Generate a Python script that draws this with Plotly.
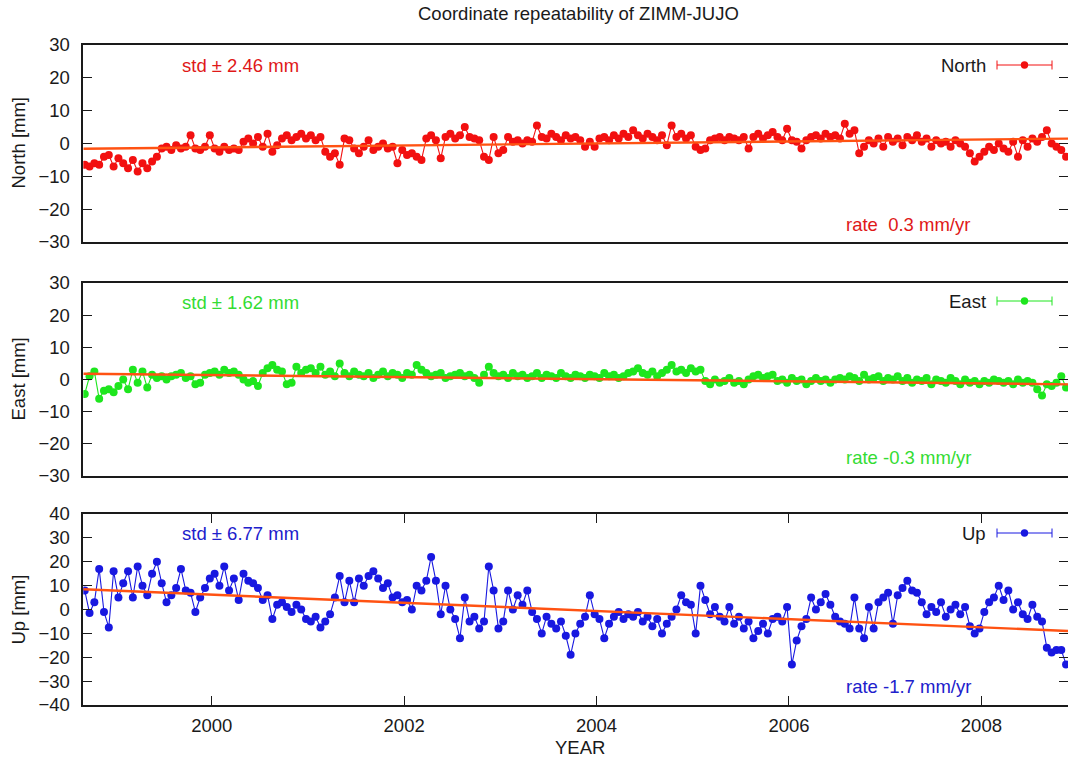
import numpy as np
import plotly.graph_objects as go

# ---------------- data ----------------
epoch_start = 1998.68          # first epoch (decimal year)
epoch_step = 0.05              # sampling interval (years)
x_range = [1998.665, 2008.90]
year_ticks = [2000, 2002, 2004, 2006, 2008]

north = [
    -6.5, -7, -6, -6.5, -4, -3.5, -7,
    -4.5, -6, -7.5, -5, -8.5, -6, -7.5, -5.5, -4, -1.5, -1, -2, -0.5, -1.5, -1, 2.5, -1.5, -2, -1, 2.5,
    -1.5, -2.5, -1, -2, -1.5, -2, 0.5, 1.5, 0, 2, -1, 3, -2.5, -0.5, 1.5, 2.5, 1, 2, 3, 1.5,
    2.5, 1, 2, -2.5, -4, -3, -6.5, 1.5, 1, -1.5, -3, -1, 1, -2, -1, 0, -1.5, -1, -6, -2,
    -3.5, -3, -4, -5, 1.5, 2.5, 1, -4.5, 2, 3, 1.5, 2.5, 5, 2, 1.5, 1, -4, -5, 2, -3,
    -2, 2, 0.5, 1, 0, 1, 0.5, 5.5, 2, 1.5, 3, 2, 1, 2.5, 1.5, 2, 1, -1, 0.5, -1,
    1.5, 2, 1, 2.5, 1.5, 3, 2, 4, 2.5, 1.5, 3, 2, 1, 2.5, -0.5, 5.5, 2, 3, 1.5, 2.5,
    -1, -2, -1.5, 1, 1.5, 2, 1, 2, 1.5, 1, 2, -1.5, 2, 3, 1.5, 2.5, 3.5, 2, 1, 4.5,
    1, 0.5, -1.5, 1, 2, 2.5, 1.5, 3, 2, 2.5, 1.5, 6, 3, 4, -3, -1, 1, 0, 1.5, -1,
    2, 0.5, 1.5, -0.5, 2, 1, 2.5, 0.5, 1.5, -1, 1, 0, 0.5, -1, 1, 0, -1, -3, -5.5, -4,
    -2.5, -1, -2, 0, -1.5, -2.5, 0.5, -4, 1, -1, 1.5, 0.5, 2, 4, 0, -1, -2, -4,
]

east = [
    -4.5, 1, 2.5, -6, -3.5, -3, -4,
    -2, 0, -3, 3, -1, 2.5, -2.5, 1.5, 0.5, 1, 0, 1, 1.5, 2, 0.5, 1, -1.5, -1, 1.5, 2,
    2.5, 1.5, 3, 2, 2.5, 1.5, 0, -1, -0.5, -2, 2, 3.5, 4.5, 3, 2.5, -1.5, -1, 4, 2, 3,
    3.5, 2, 4, 1.5, 2.5, 1, 5, 2, 1, 2.5, 1.5, 1, 2, 0.5, 1.5, 2.5, 1, 2, 1.5, 0.5,
    2, 1.5, 4.5, 3, 2, 1, 1.5, 2, 0.5, 1, 1.5, 2, 1, 1.5, 0.5, -1, 1.5, 4, 2, 1,
    1.5, 0.5, 2, 1, 1.5, 0.5, 1, 2, 0.5, 1.5, 1, 0.5, 2, 1, 0.5, 1.5, 1, 0.5, 1.5, 1,
    0.5, 2, 1, 1.5, 0.5, 1, 2, 2.5, 3.5, 2, 1.5, 2.5, 1, 2, 3, 4.5, 2.5, 3, 2, 3.5,
    2.5, 3, -0.5, -1.5, 0, -1, -0.5, 0.5, -1, -0.5, -1.5, 0, 1, 1.5, 0.5, 1, 1.5, -0.5, 0, -1,
    0.5, -0.5, 0, -1.5, -0.5, 0.5, -0.5, 0, -1, 0, 0.5, 0, 1, 0.5, -0.5, 1.5, 0, 0.5, 1, -0.5,
    0.5, 0, 1, -0.5, 0.5, -1, 0, -0.5, 0.5, -1.5, 0, -0.5, -1, 0.5, -0.5, -1.5, 0, -1, -0.5, -1.5,
    -0.5, -1, 0, -0.5, -1, -0.5, -1.5, 0, -1, -0.5, -1, -3, -5, -1.5, -2, -1, 1, -2.5,
]

up = [
    8, -1.5, 3, 17, -1, -7.5, 16,
    5, 11, 16, 5, 18, 10, 6, 15, 20, 11, 3, 6, 9, 17, 8, 7, -1, 5, 9, 13,
    15, 10, 18, 8, 13, 4, 15, 12, 11, 9, 4, 6, -4, 2, 3, 1, -1, 2, 0, -4,
    -5, -3, -7.5, -5, -2, 5, 14, 3, 12, 3, 13, 10, 14, 16, 13, 9, 11, 5, 6, 3,
    4, 0, 10, 8, 12, 22, 12, -2, 10, 0, -4, -12, 5, -5, -3, -8, -5, 18, 8, -8,
    -5, 8, 0, 6, 2, 8, -1, -4, -10, -3, -6, -8, -5, -11, -19, -10, -6, -3, 6, -2,
    -4, -12, -6, -3, -1, -4, -2, -3, -1, -5, -3, -7, -4, -10, -6, -3, 0, 6, 3, 2,
    -10, 10, 4, -2, 1, -3, -5, 1, -6, -3, -8, -5, -12, -9, -6, -10, -4, -3, -5, 1,
    -23, -13, -7, -4, 5, 0, 3, 6.5, 2, -3, -5, -6, -8, 5, -8, -12, 1, -8, 3, 5,
    7, -6, 6, 9, 12, 8, 7, 3, -2, 1, -1, 3, -3, 0, 2, -2, 1, -7, -10, -8,
    -1, 3, 5, 10, 4, 8, 0, 3, -2, -4, 2, -3, -5, -16, -18, -17, -17, -23,
]

# linear trend lines (value at left edge / right edge of the time axis)
fit_start = [-1.6, 1.8, 8.5]
fit_end = [1.5, -1.5, -9.0]

names = ["North", "East", "Up"]
y_titles = ["North [mm]", "East [mm]", "Up [mm]"]
std_labels = ["std \u00b1 2.46 mm", "std \u00b1 1.62 mm", "std \u00b1 6.77 mm"]
rate_labels = ["rate\u00a0 0.3 mm/yr", "rate -0.3 mm/yr", "rate -1.7 mm/yr"]
y_ranges = [[-30, 30], [-30, 30], [-40, 40]]
y_tickvals = [[-30, -20, -10, 0, 10, 20, 30],
              [-30, -20, -10, 0, 10, 20, 30],
              [-40, -30, -20, -10, 0, 10, 20, 30, 40]]

# ---------------- styling ----------------
W, H = 1068, 757
plot_left, plot_right = 83.3, 1068
panel_top = [45, 283, 514]
panel_bottom = [242, 476, 705]
point_colors = ["#f21010", "#1ee61e", "#1818e0"]
text_colors = ["#e01818", "#33dc33", "#2020cc"]
fit_color = "#ff5212"
axis_color = "#1a1a1a"
FONT = "Liberation Sans, Arial, Helvetica, sans-serif"

series = [north, east, up]
epochs = epoch_start + epoch_step * np.arange(len(north))

def px(x):
    return x / W

def py(y):
    return 1 - y / H

fig = go.Figure()
layout = dict(
    width=W, height=H,
    margin=dict(l=0, r=0, t=0, b=0, autoexpand=False),
    paper_bgcolor="white", plot_bgcolor="white",
    showlegend=False,
    font=dict(family=FONT, size=18, color="#1a1a1a"),
)

annotations = []
shapes = []

for i in range(3):
    sfx = "" if i == 0 else str(i + 1)
    xa, ya = "x" + sfx, "y" + sfx
    fig.add_trace(go.Scatter(
        x=epochs, y=series[i], mode="lines+markers", xaxis=xa, yaxis=ya,
        line=dict(color=point_colors[i], width=1.1),
        marker=dict(color=point_colors[i], size=8, line=dict(width=0)),
        name=names[i],
    ))
    fig.add_trace(go.Scatter(
        x=x_range, y=[fit_start[i], fit_end[i]], mode="lines", xaxis=xa, yaxis=ya,
        line=dict(color=fit_color, width=2.4), hoverinfo="skip",
    ))
    is_bottom = (i == 2)
    layout["xaxis" + sfx] = dict(
        domain=[px(plot_left), px(plot_right)], range=x_range, anchor=ya,
        showline=True, linecolor=axis_color, linewidth=1.5,
        mirror="ticks" if is_bottom else True,
        ticks="inside" if is_bottom else "", ticklen=9, tickwidth=1.3, tickcolor=axis_color,
        tickvals=year_ticks, showticklabels=is_bottom, ticklabelstandoff=3,
        tickfont=dict(family=FONT, size=18.5, color="#1a1a1a"),
        showgrid=False, zeroline=False, fixedrange=True, automargin=False,
    )
    layout["yaxis" + sfx] = dict(
        domain=[py(panel_bottom[i]), py(panel_top[i])], range=y_ranges[i], anchor=xa,
        showline=True, linecolor=axis_color, linewidth=1.5, mirror="ticks",
        ticks="inside", ticklen=9, tickwidth=1.3, tickcolor=axis_color,
        tickvals=y_tickvals[i], ticklabelstandoff=8,
        tickfont=dict(family=FONT, size=18.5, color="#1a1a1a"),
        showgrid=False, zeroline=False, fixedrange=True, automargin=False,
    )
    ymid = (panel_top[i] + panel_bottom[i]) / 2
    # y-axis title
    annotations.append(dict(
        x=px(18), y=py(ymid), xref="paper", yref="paper", text=y_titles[i],
        textangle=-90, showarrow=False, xanchor="center", yanchor="middle",
        font=dict(family=FONT, size=18.5, color="#1a1a1a"),
    ))
    # std label
    std_y = [66, 302, 533][i]
    annotations.append(dict(
        x=px(240), y=py(std_y), xref="paper", yref="paper", text=std_labels[i],
        showarrow=False, xanchor="center", yanchor="middle",
        font=dict(family=FONT, size=18.5, color=text_colors[i]),
    ))
    # rate label
    rate_y = [224, 457, 686][i]
    annotations.append(dict(
        x=px(908), y=py(rate_y), xref="paper", yref="paper", text=rate_labels[i],
        showarrow=False, xanchor="center", yanchor="middle",
        font=dict(family=FONT, size=18.5, color=text_colors[i]),
    ))
    # legend entry
    ly = [65, 301, 533][i]
    annotations.append(dict(
        x=px(988), y=py(ly), xref="paper", yref="paper", text=names[i],
        showarrow=False, xanchor="right", yanchor="middle",
        font=dict(family=FONT, size=18.5, color="#1a1a1a"),
    ))
    x0, x1, xc = 997, 1052, 1024.5
    shapes.append(dict(type="line", xref="paper", yref="paper",
                       x0=px(x0), x1=px(x1), y0=py(ly), y1=py(ly),
                       line=dict(color=point_colors[i], width=1)))
    for xe in (x0, x1):
        shapes.append(dict(type="line", xref="paper", yref="paper",
                           x0=px(xe), x1=px(xe), y0=py(ly - 4.5), y1=py(ly + 4.5),
                           line=dict(color=point_colors[i], width=1)))
    shapes.append(dict(type="circle", xref="paper", yref="paper",
                       x0=px(xc - 3.7), x1=px(xc + 3.7), y0=py(ly + 3.7), y1=py(ly - 3.7),
                       fillcolor=point_colors[i], line=dict(width=0)))

annotations.append(dict(
    x=px(578), y=py(14), xref="paper", yref="paper",
    text="Coordinate repeatability of ZIMM-JUJO", showarrow=False,
    xanchor="center", yanchor="middle", font=dict(family=FONT, size=18.5, color="#1a1a1a"),
))
annotations.append(dict(
    x=px(580), y=py(747), xref="paper", yref="paper", text="YEAR", showarrow=False,
    xanchor="center", yanchor="middle", font=dict(family=FONT, size=18.5, color="#1a1a1a"),
))

layout["annotations"] = annotations
layout["shapes"] = shapes
fig.update_layout(**layout)

page_fix = ("document.documentElement.style.margin='0';"
            "document.body.style.margin='0';document.body.style.padding='0';"
            "document.body.style.overflow='hidden';"
            "document.documentElement.style.overflow='hidden';")
fig.write_html("out.html", post_script=page_fix,
               config={"displayModeBar": False, "staticPlot": False})
